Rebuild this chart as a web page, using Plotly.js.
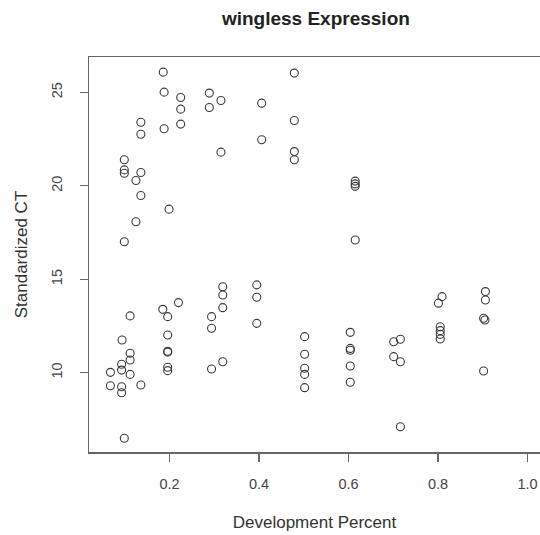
<!DOCTYPE html>
<html>
<head>
<meta charset="utf-8">
<script src="https://cdn.plot.ly/plotly-3.0.1.min.js"></script>
<style>html,body{margin:0;padding:0;background:#fff;}#chart{width:540px;height:535px;}</style>
</head>
<body>
<div id="chart"></div>
<script>
var devPercent = [
  0.186, 0.188, 0.225, 0.225, 0.225, 0.136, 0.136, 0.188, 0.289, 0.289,
  0.315, 0.315, 0.099, 0.099, 0.099, 0.136, 0.125, 0.136, 0.199, 0.125,
  0.099, 0.479, 0.406, 0.479, 0.406, 0.479, 0.479, 0.615, 0.615, 0.615,
  0.615,
  0.099, 0.112, 0.094, 0.112, 0.112, 0.093, 0.093, 0.112, 0.068, 0.068,
  0.093, 0.093, 0.136, 0.185, 0.196, 0.220, 0.196, 0.196, 0.196, 0.196,
  0.196, 0.294, 0.294, 0.319, 0.319, 0.319, 0.294, 0.319, 0.395, 0.395,
  0.395, 0.502, 0.502, 0.502, 0.502, 0.502, 0.604, 0.604, 0.604, 0.604,
  0.604, 0.701, 0.716, 0.701, 0.716, 0.716, 0.809, 0.801, 0.805, 0.805,
  0.805, 0.805, 0.906, 0.906, 0.902, 0.905, 0.902
];
var standardizedCT = [
  26.08, 25.01, 24.72, 24.10, 23.30, 23.40, 22.76, 23.05, 24.96, 24.19,
  24.56, 21.80, 21.39, 20.85, 20.67, 20.71, 20.28, 19.48, 18.75, 18.08,
  17.01, 26.03, 24.42, 23.49, 22.46, 21.83, 21.39, 20.25, 20.10, 19.97,
  17.10,
  6.49, 13.04, 11.75, 11.04, 10.68, 10.45, 10.14, 9.91, 10.02, 9.30,
  9.25, 8.93, 9.34, 13.39, 13.00, 13.75, 12.02, 11.15, 11.10, 10.29,
  10.11, 13.00, 12.38, 14.60, 14.16, 13.48, 10.20, 10.59, 14.70, 14.04,
  12.64, 11.93, 10.99, 10.24, 9.91, 9.20, 12.16, 11.30, 11.20, 10.36,
  9.49, 11.66, 11.79, 10.86, 10.59, 7.11, 14.07, 13.72, 12.46, 12.25,
  12.05, 11.80, 14.34, 13.89, 12.91, 12.82, 10.09
];
var xTicks = [0.2, 0.4, 0.6, 0.8, 1.0];
var xTickLabels = ["0.2", "0.4", "0.6", "0.8", "1.0"];
var yTicks = [10, 15, 20, 25];
var yTickLabels = ["10", "15", "20", "25"];

var font = "Liberation Sans, Arial, Helvetica, sans-serif";
var trace = {
  x: devPercent, y: standardizedCT, type: "scatter", mode: "markers",
  marker: {symbol: "circle-open", size: 8, color: "#3a3a3a", line: {width: 1.1, color: "#3a3a3a"}},
  hoverinfo: "none"
};
var layout = {
  width: 540, height: 535,
  margin: {l: 89, r: 0, t: 57, b: 83},
  paper_bgcolor: "#fff", plot_bgcolor: "#fff",
  showlegend: false,
  font: {family: font, color: "#444", size: 14.5},
  title: {text: "<b>wingless Expression</b>", x: 0.585, xanchor: "center", y: 0.966, yanchor: "middle",
          font: {family: font, size: 19, color: "#222"}},
  xaxis: {
    range: [0.0201, 1.028], showgrid: false, zeroline: false,
    showline: true, mirror: true, linecolor: "#666", linewidth: 1.5,
    ticks: "outside", ticklen: 8, tickwidth: 1.2, tickcolor: "#666",
    tickvals: xTicks, ticktext: xTickLabels, ticklabelstandoff: 10,
    tickfont: {family: font, size: 14.5, color: "#444"},
    title: {text: "Development Percent", standoff: 25, font: {family: font, size: 17, color: "#333"}}
  },
  yaxis: {
    range: [5.758, 26.89], showgrid: false, zeroline: false,
    showline: true, mirror: false, linecolor: "#666", linewidth: 1.5,
    ticks: "outside", ticklen: 8, tickwidth: 1.2, tickcolor: "#666",
    tickvals: yTicks, ticktext: yTickLabels, tickangle: -90, ticklabelstandoff: 12,
    tickfont: {family: font, size: 14.5, color: "#444"},
    title: {text: "Standardized CT", standoff: 17, font: {family: font, size: 17, color: "#333"}}
  }
};
Plotly.newPlot("chart", [trace], layout, {displayModeBar: false, staticPlot: true});
</script>
</body>
</html>
